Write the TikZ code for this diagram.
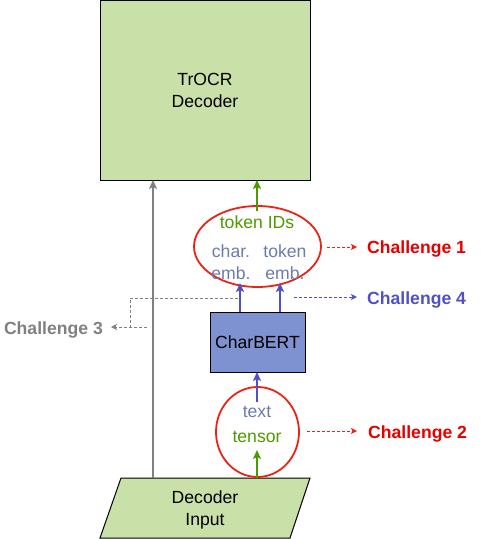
\documentclass[tikz,border=0pt]{standalone}
\usepackage{fontspec}
\setmainfont{Liberation Sans}
\usetikzlibrary{shapes.geometric,arrows.meta}
\definecolor{boxgreen}{RGB}{201,224,168}
\definecolor{txtgreen}{RGB}{77,153,0}
\definecolor{bluegray}{RGB}{108,123,174}
\definecolor{chblue}{RGB}{80,80,200}
\definecolor{boxblue}{RGB}{126,146,209}
\definecolor{chred}{RGB}{230,0,0}
\definecolor{ellred}{RGB}{235,35,20}
\definecolor{chgray}{RGB}{128,128,128}
\tikzset{
  every node/.style={font=\fontsize{17.6}{22}\selectfont, inner sep=0pt},
  block/.style={draw=black, line width=1pt, align=center},
  bubble/.style={ellipse, draw=ellred, line width=1.8pt, inner sep=0pt},
  flow/.style={line width=2pt, -{Stealth[length=9pt,width=8pt,inset=2pt]}},
  hint/.style={dashed, line width=0.9pt, dash pattern=on 3pt off 2pt, -{Stealth[length=6pt,width=6pt,inset=1.5pt]}},
  chal/.style={font=\fontsize{17.6}{22}\selectfont\bfseries},
}
\begin{document}
\begin{tikzpicture}[x=1pt,y=-1pt]
\useasboundingbox (0,0) rectangle (485,539);
% TrOCR decoder
\node[block, fill=boxgreen, minimum width=210pt, minimum height=180pt] (trocr) at (205,90) {TrOCR\\Decoder};
% Decoder input parallelogram
\draw[fill=boxgreen, draw=black, line width=1pt] (121,478) -- (310,478) -- (290,538) -- (100,538) -- cycle;
\node[align=center] (decin) at (205,510) {Decoder\\Input};
% ellipses
\node[bubble, minimum width=127pt, minimum height=81pt] (tok) at (257.5,246.5) {};
\node[bubble, minimum width=83pt, minimum height=90pt] (txt) at (257.5,432) {};
% CharBERT
\node[block, fill=boxblue, minimum width=95pt, minimum height=60pt] (cb) at (257.5,342) {CharBERT};
% texts inside ellipses
\node[text=txtgreen] (tid) at (257,222) {token IDs};
\node[text=bluegray, align=center] (cemb) at (231,262) {char.\\emb.};
\node[text=bluegray, align=center] (temb) at (285,262) {token\\emb.};
\node[text=bluegray] (ttext) at (257,412) {text};
\node[text=txtgreen] (ttensor) at (257,437) {tensor};
% coordinates
\coordinate (gbot) at (153,478);
\coordinate (gtop) at (153,180);
\coordinate (tokstart) at (257,211);
\coordinate (tokend) at (257,180);
\coordinate (c1a) at (240,312);
\coordinate (c1b) at (240,283);
\coordinate (c2a) at (280,312);
\coordinate (c2b) at (280,283);
\coordinate (txa) at (257,402);
\coordinate (txb) at (257,372);
\coordinate (tna) at (257,478);
\coordinate (tnb) at (257,450);
% main arrows
\draw[flow, draw=chgray] (gbot) -- (gtop);
\draw[flow, draw=txtgreen] (tokstart) -- (tokend);
\draw[flow, draw=chblue] (c1a) -- (c1b);
\draw[flow, draw=chblue] (c2a) -- (c2b);
\draw[flow, draw=chblue] (txa) -- (txb);
\draw[flow, draw=txtgreen] (tna) -- (tnb);
% challenges
\node[chal, text=chred, anchor=west] (ch1) at (367,248.5) {Challenge 1};
\node[chal, text=chblue, anchor=west] (ch4) at (367,299.5) {Challenge 4};
\node[chal, text=chred, anchor=west] (ch2) at (368,433.5) {Challenge 2};
\node[chal, text=chgray, anchor=east] (ch3) at (103,329.5) {Challenge 3};
\coordinate (h1) at (327,247);
\coordinate (h1e) at (357,247);
\coordinate (h4) at (294,297);
\coordinate (h4e) at (357,297);
\coordinate (h2) at (307,431);
\coordinate (h2e) at (357,431);
\coordinate (h3s) at (238,298);
\coordinate (h3c) at (130,327);
\coordinate (h3e) at (147,327);
\coordinate (h3t) at (111,327);
\draw[hint, draw=ellred] (h1) -- (h1e);
\draw[hint, draw=chblue] (h4) -- (h4e);
\draw[hint, draw=ellred] (h2) -- (h2e);
\draw[dashed, dash pattern=on 3pt off 2pt, line width=0.9pt, draw=chgray] (h3s) -| (h3c);
\draw[hint, draw=chgray] (h3e) -- (h3t);
\end{tikzpicture}
\end{document}
